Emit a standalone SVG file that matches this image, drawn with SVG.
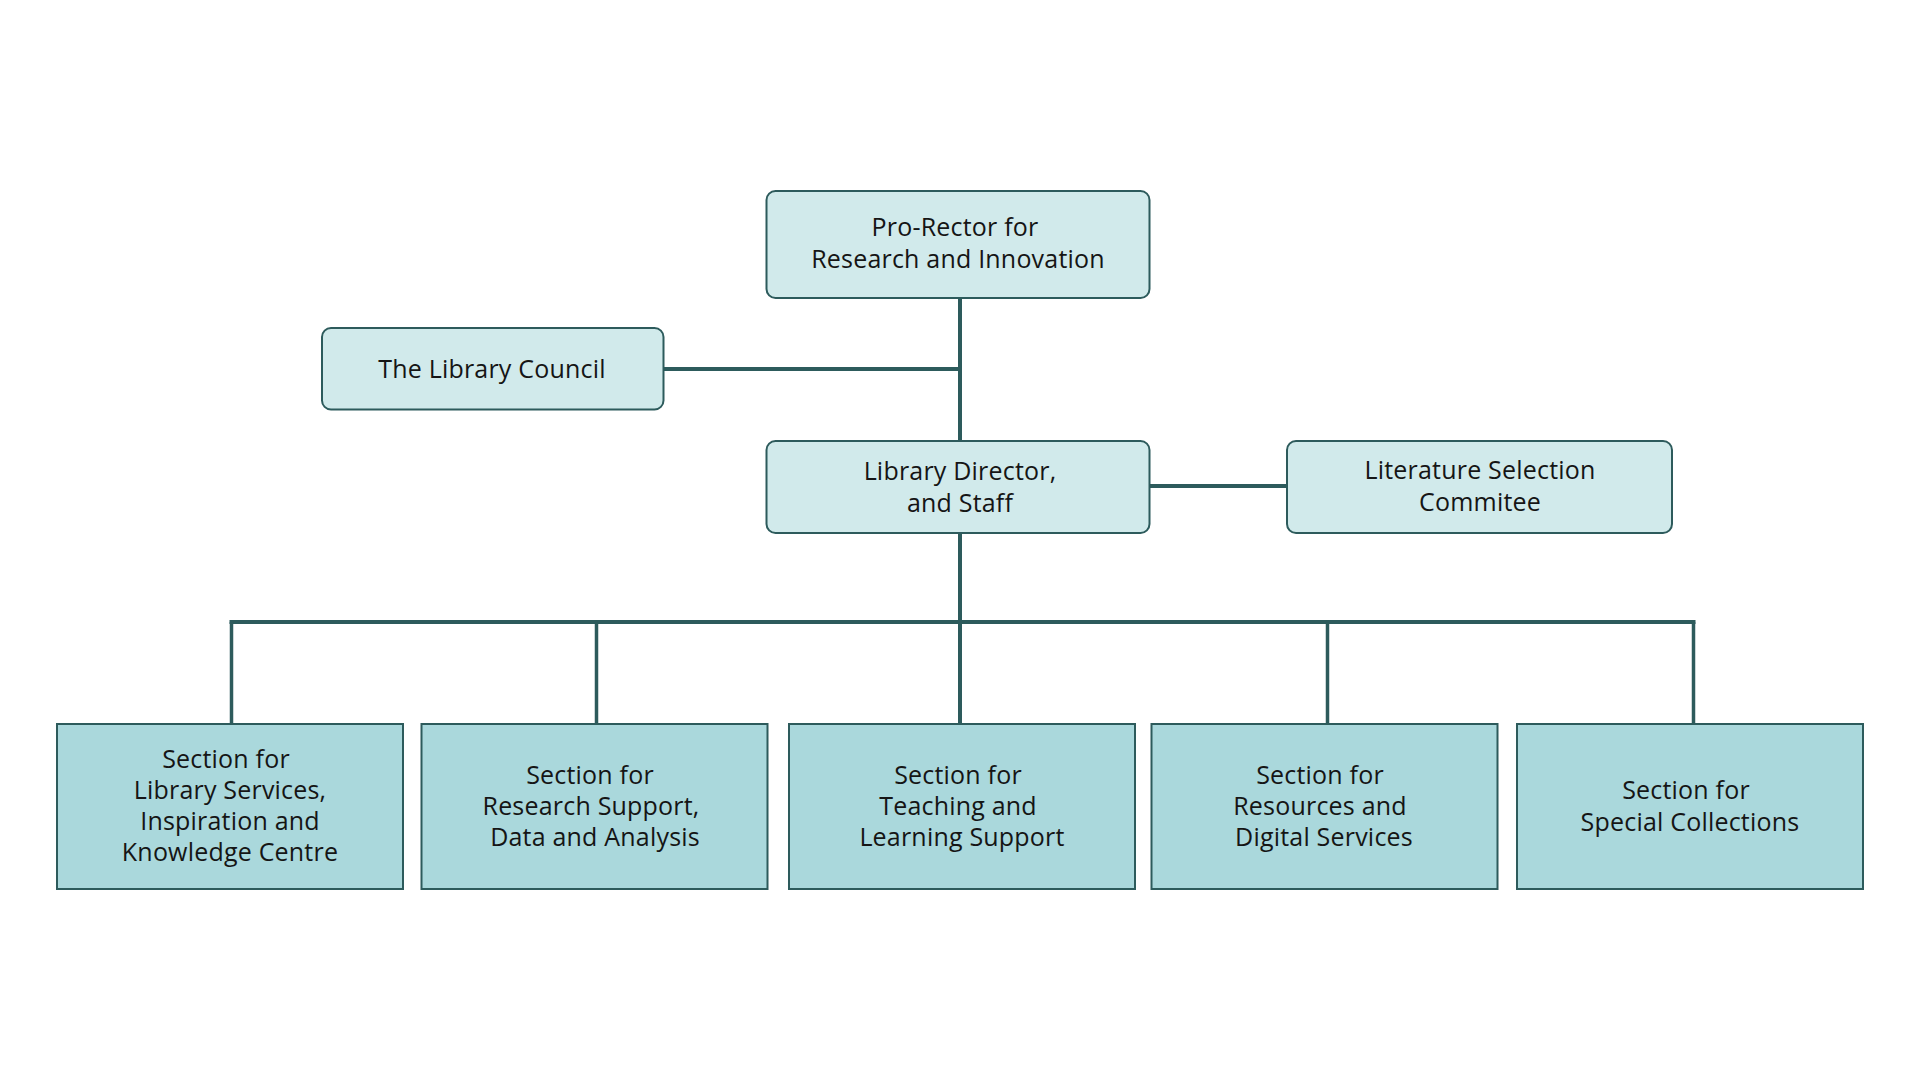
<svg xmlns="http://www.w3.org/2000/svg" width="1920" height="1080" viewBox="0 0 1920 1080">
<style>
.top{fill:#D1EAEB;stroke:#2D5B5C;stroke-width:2}
.sec{fill:#AAD8DC;stroke:#2D5B5C;stroke-width:2}
.conn{stroke:#2D5B5C;stroke-width:4;fill:none;stroke-linecap:square}
.thin{stroke:#2D5B5C;stroke-width:3.5;fill:none}
text{font-family:"Open Sans","Noto Sans","Liberation Sans",sans-serif;font-size:25px;letter-spacing:0.2px;fill:#151515;text-anchor:middle}
</style>
<rect width="1920" height="1080" fill="#fff"/>
<g id="connectors">
<line class="conn" x1="960" y1="298" x2="960" y2="441"/>
<line class="conn" x1="664" y1="369" x2="960" y2="369"/>
<line class="conn" x1="1150" y1="486" x2="1287" y2="486"/>
<line class="conn" x1="960" y1="533" x2="960" y2="622"/>
<line class="conn" x1="231.5" y1="622" x2="1693.5" y2="622"/>
<line class="thin" x1="231.5" y1="622" x2="231.5" y2="723"/>
<line class="thin" x1="596.5" y1="622" x2="596.5" y2="723"/>
<line class="conn" x1="960" y1="622" x2="960" y2="723"/>
<line class="thin" x1="1327.5" y1="622" x2="1327.5" y2="723"/>
<line class="thin" x1="1693.5" y1="622" x2="1693.5" y2="723"/>
</g>
<g id="pro-rector">
<rect class="top" x="766.5" y="191" width="383" height="107" rx="9"/>
<text x="955" y="236">Pro-Rector for</text>
<text x="958" y="268">Research and Innovation</text>
</g>
<g id="library-council">
<rect class="top" x="322" y="328" width="341.5" height="81.5" rx="9"/>
<text x="492" y="378">The Library Council</text>
</g>
<g id="library-director">
<rect class="top" x="766.5" y="441" width="383" height="92" rx="9"/>
<text x="960" y="480">Library Director,</text>
<text x="960" y="511.5">and Staff</text>
</g>
<g id="literature-committee">
<rect class="top" x="1287" y="441" width="385" height="92" rx="9"/>
<text x="1480" y="479">Literature Selection</text>
<text x="1480" y="510.5">Commitee</text>
</g>
<g id="section-library-services">
<rect class="sec" x="57" y="724" width="346" height="165"/>
<text x="226" y="768">Section for</text>
<text x="230" y="799">Library Services,</text>
<text x="230" y="830">Inspiration and</text>
<text x="230" y="861">Knowledge Centre</text>
</g>
<g id="section-research-support">
<rect class="sec" x="421.5" y="724" width="346" height="165"/>
<text x="590" y="784">Section for</text>
<text x="591" y="815">Research Support,</text>
<text x="595" y="846">Data and Analysis</text>
</g>
<g id="section-teaching">
<rect class="sec" x="789" y="724" width="346" height="165"/>
<text x="958" y="784">Section for</text>
<text x="958" y="815">Teaching and</text>
<text x="962" y="846">Learning Support</text>
</g>
<g id="section-resources">
<rect class="sec" x="1151.5" y="724" width="346" height="165"/>
<text x="1320" y="784">Section for</text>
<text x="1320" y="815">Resources and</text>
<text x="1324" y="846">Digital Services</text>
</g>
<g id="section-special-collections">
<rect class="sec" x="1517" y="724" width="346" height="165"/>
<text x="1686" y="799">Section for</text>
<text x="1690" y="830.5">Special Collections</text>
</g>
</svg>
